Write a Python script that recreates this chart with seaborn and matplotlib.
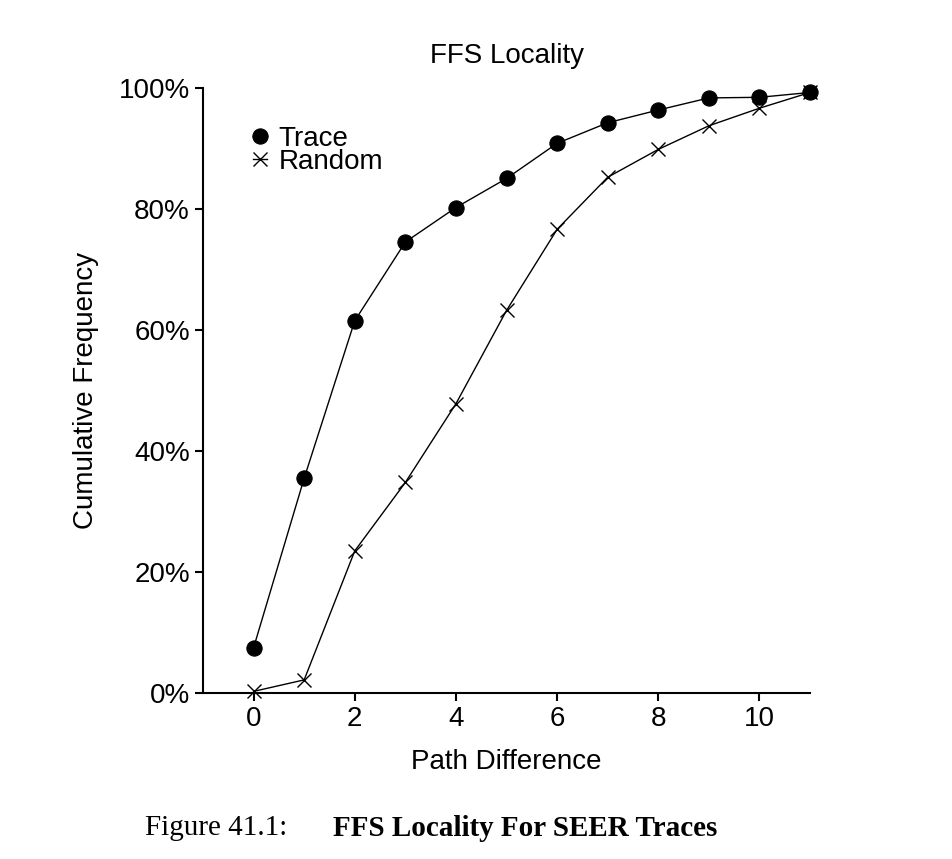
import matplotlib
matplotlib.use("Agg")
import matplotlib.pyplot as plt
import seaborn as sns
import pandas as pd

path_diff = [0, 1, 2, 3, 4, 5, 6, 7, 8, 9, 10, 11]
trace = [7.5, 35.5, 61.5, 74.5, 80.2, 85.0, 90.8, 94.2, 96.3, 98.3, 98.4, 99.2]
random_ = [0.3, 2.2, 23.5, 34.8, 47.8, 63.2, 76.6, 85.2, 89.8, 93.7, 96.6, 99.2]
yticks = [0, 20, 40, 60, 80, 100]
xticks = [0, 2, 4, 6, 8, 10]

plt.rcParams["font.family"] = "Liberation Sans"
fig = plt.figure(figsize=(9.53, 8.59), dpi=100)
ax = fig.add_axes([0.213, 0.193, 0.637, 0.705])
df = pd.DataFrame({"x": path_diff, "Trace": trace, "Random": random_})
sns.lineplot(data=df, x="x", y="Trace", ax=ax, color="black", lw=1, marker="o",
             markersize=11, markeredgecolor="black", label="Trace", clip_on=False)
sns.lineplot(data=df, x="x", y="Random", ax=ax, color="black", lw=1, marker="x",
             markersize=10, markeredgewidth=1, markeredgecolor="black",
             label="Random", clip_on=False)
ax.set_xlim(-1, 11)
ax.set_ylim(0, 100)
ax.set_xticks(xticks)
ax.set_yticks(yticks)
ax.set_yticklabels([f"{v}%" for v in yticks])
ax.tick_params(labelsize=20, width=1.5, length=6)
for s in ["top", "right"]:
    ax.spines[s].set_visible(False)
for s in ["left", "bottom"]:
    ax.spines[s].set_linewidth(1.5)
ax.set_xlabel("Path Difference", fontsize=20, labelpad=12)
ax.set_ylabel("Cumulative Frequency", fontsize=20, labelpad=14)
ax.set_title("FFS Locality", fontsize=20, pad=18)
ax.legend(loc="upper left", bbox_to_anchor=(0.06, 0.96), frameon=False, fontsize=20,
          handlelength=0.5, handletextpad=0.4, labelspacing=-0.1, borderpad=0)
fig.text(145/953, 0.036, "Figure 41.1:", fontsize=21, family="Liberation Serif", ha="left", va="center")
fig.text(333/953, 0.036, "FFS Locality For SEER Traces", fontsize=21, family="Liberation Serif",
         weight="bold", ha="left", va="center")
fig.savefig("out.png", dpi=100)
